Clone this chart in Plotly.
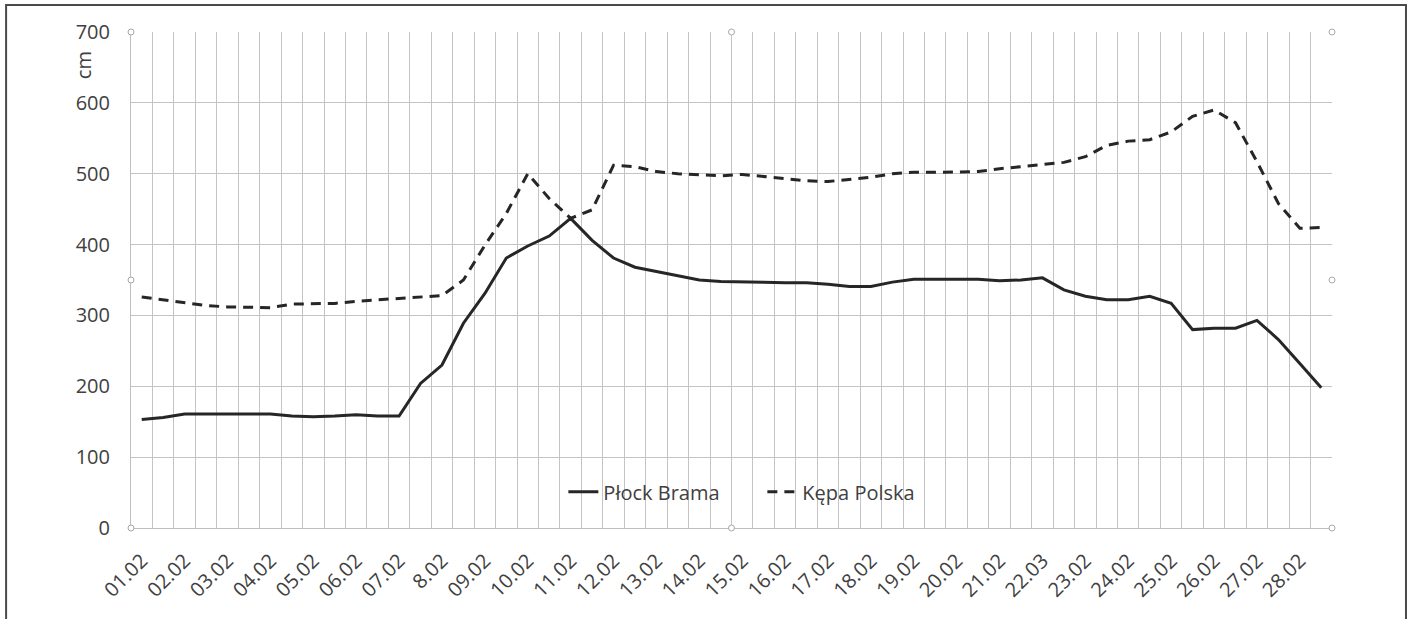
import plotly.graph_objects as go

# Two readings per day, 56 readings in total; labels on every other reading
day_labels = ["01.02", "02.02", "03.02", "04.02", "05.02", "06.02", "07.02", "8.02",
              "09.02", "10.02", "11.02", "12.02", "13.02", "14.02", "15.02", "16.02",
              "17.02", "18.02", "19.02", "20.02", "21.02", "22.03", "23.02", "24.02",
              "25.02", "26.02", "27.02", "28.02"]

plock_brama = [153, 156, 161, 161, 161, 161, 161, 158, 157, 158, 160, 158, 158, 204,
               230, 289, 331, 381, 398, 412, 437, 406, 381, 368, 362, 356, 350, 348,
               348, 347, 346, 346, 344, 341, 341, 347, 351, 351, 351, 351, 349, 350,
               353, 336, 327, 322, 322, 327, 317, 280, 282, 282, 293, 266, 232, 198]

kepa_polska = [326, 322, 318, 314, 312, 311, 311, 316, 316, 317, 320, 322, 323, 325,
               328, 350, 399, 444, 500, 465, 437, 449, 512, 510, 503, 500, 498, 497,
               499, 496, 493, 490, 489, 492, 495, 500, 502, 502, 502, 503, 507, 510,
               512, 516, 524, 540, 546, 548, 559, 581, 590, 572, 517, 458, 423, 424]

reading_index = list(range(1, len(plock_brama) + 1))
label_positions = reading_index[::2]

TEXT = "#404040"
GRID = "#c3c3c8"
FONT = "Open Sans"
FS = 20

fig = go.Figure()
fig.add_trace(go.Scatter(x=reading_index, y=plock_brama, mode="lines", name="Płock Brama",
                         line=dict(color="#262626", width=3)))
fig.add_trace(go.Scatter(x=reading_index, y=kepa_polska, mode="lines", name="Kępa Polska",
                         line=dict(color="#262626", width=3, dash="10px,7px")))

fig.update_layout(
    width=1413, height=619,
    margin=dict(l=131, r=81, t=32, b=91),
    paper_bgcolor="white", plot_bgcolor="white",
    font=dict(family=FONT, size=FS, color=TEXT),
    showlegend=True,
    legend=dict(orientation="h", x=0.36, xanchor="left", y=0.073, yanchor="middle",
                bgcolor="rgba(0,0,0,0)", font=dict(size=FS, color=TEXT),
                itemwidth=30, entrywidth=154, entrywidthmode="pixels", tracegroupgap=0),
)

fig.update_xaxes(
    range=[0.5, len(plock_brama) + 0.5],
    tickmode="array", tickvals=label_positions, ticktext=day_labels,
    tickangle=-45, showgrid=False, ticks="", zeroline=False,
    showline=True, linecolor="#bdbdc2", linewidth=1, mirror=False,
    tickfont=dict(size=FS, color=TEXT), ticklabelstandoff=12,
    minor=dict(tick0=0.5, dtick=1, showgrid=True, gridcolor=GRID, gridwidth=1, ticks=""),
)
fig.update_yaxes(
    range=[0, 700], tickmode="linear", tick0=0, dtick=100,
    showgrid=True, gridcolor=GRID, gridwidth=1, zeroline=False,
    showline=True, linecolor="#bdbdc2", linewidth=1, ticks="",
    tickfont=dict(size=FS, color=TEXT), ticklabelstandoff=16,
)

fig.add_annotation(text="cm", xref="paper", yref="paper", x=-0.04, y=0.933,
                   xanchor="center", yanchor="middle",
                   textangle=-90, showarrow=False, font=dict(size=FS, color=TEXT))

# outer frame of the picture
fig.add_shape(type="rect", xref="paper", yref="paper", x0=-0.104, x1=1.0616,
              y0=-0.25, y1=1.0544, line=dict(color="#4a4a4a", width=2), layer="below")

# selection handles around the plot area
for hx, hy in [(0, 1), (0.5, 1), (1, 1), (0, 0.5), (1, 0.5), (0, 0), (0.5, 0), (1, 0)]:
    fig.add_shape(type="circle", xref="paper", yref="paper", xsizemode="pixel",
                  ysizemode="pixel", xanchor=hx, yanchor=hy, x0=-3, x1=3, y0=-3, y1=3,
                  line=dict(color="#a8a8a8", width=1), fillcolor="white")

fig.write_html("out.html", config={"displayModeBar": False})

# remove the browser's default page margin so the figure sits at the top-left corner
with open("out.html", encoding="utf-8") as f:
    html = f.read()
html = html.replace("<body>", '<body style="margin:0;padding:0;overflow:hidden">', 1)
with open("out.html", "w", encoding="utf-8") as f:
    f.write(html)
